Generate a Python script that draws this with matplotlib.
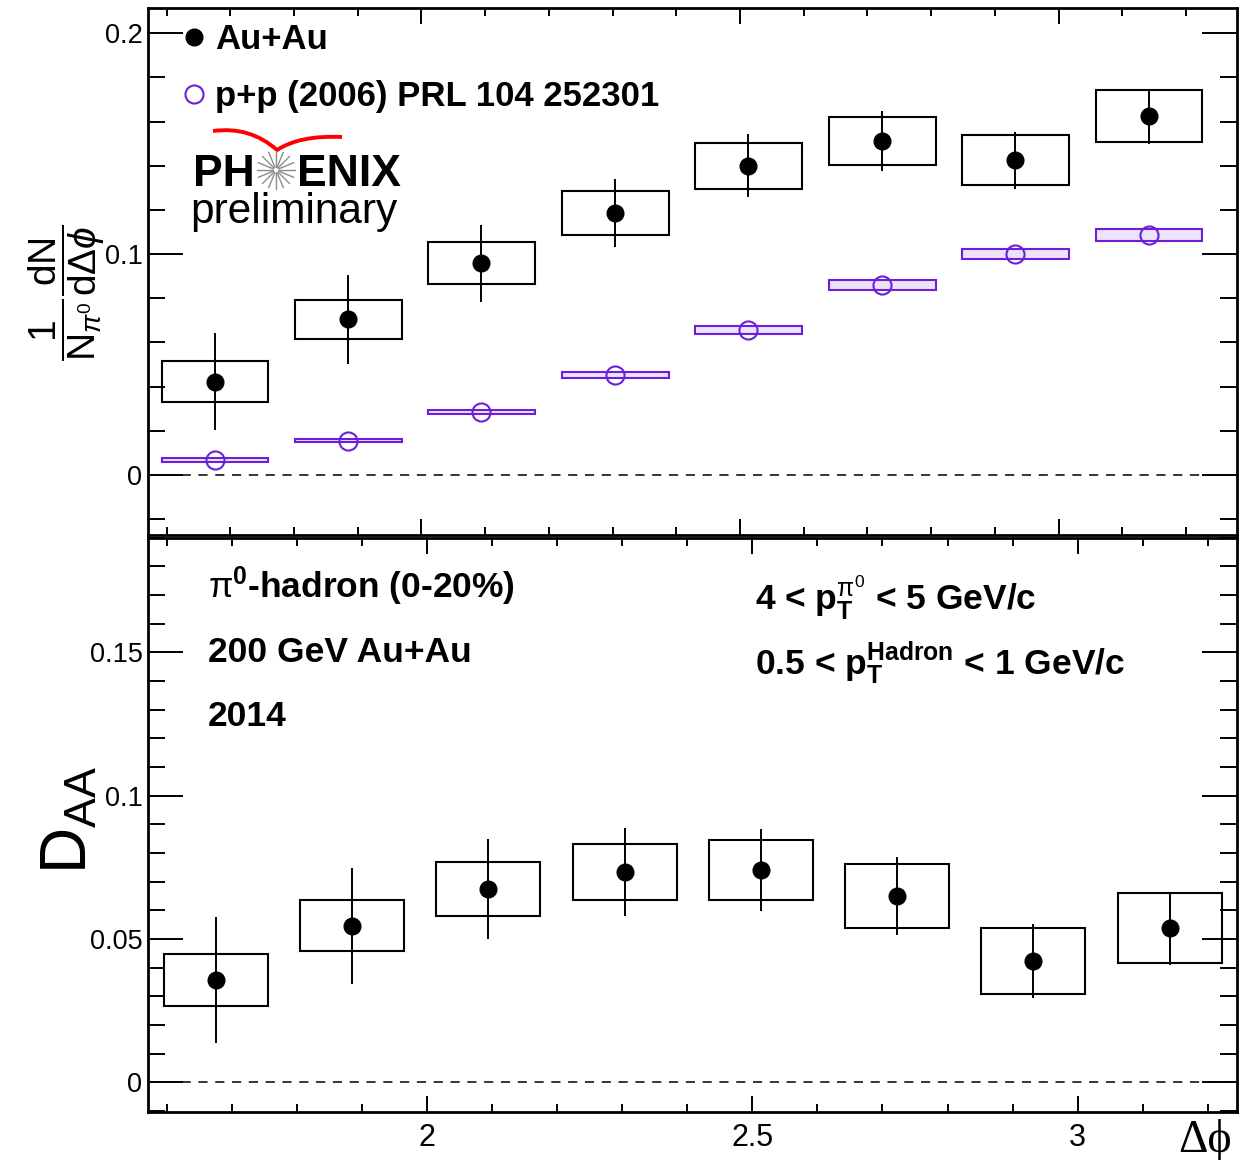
import numpy as np
import matplotlib
matplotlib.use('Agg')
import matplotlib.pyplot as plt
from matplotlib.patches import Rectangle, PathPatch
from matplotlib.path import Path
from matplotlib.lines import Line2D
from matplotlib.ticker import MultipleLocator, FuncFormatter

plt.rcParams['font.family'] = ['Liberation Sans', 'DejaVu Sans']
plt.rcParams['mathtext.fontset'] = 'custom'
plt.rcParams['mathtext.rm'] = 'Liberation Sans'
plt.rcParams['mathtext.it'] = 'Liberation Sans:italic'
plt.rcParams['mathtext.bf'] = 'Liberation Sans:bold'

# bin centres in delta phi (rad)
dphi = [1.676, 1.885, 2.094, 2.304, 2.513, 2.723, 2.932, 3.142]

# top panel: per-trigger yields
auau_y = [0.0422, 0.0704, 0.0958, 0.1187, 0.1400, 0.1513, 0.1425, 0.1625]
auau_stat = [0.0219, 0.0202, 0.0174, 0.0155, 0.0143, 0.0135, 0.0128, 0.0125]
auau_sys = [0.0092, 0.0090, 0.0095, 0.0100, 0.0104, 0.0110, 0.0113, 0.0118]

pp_y = [0.0068, 0.0155, 0.0284, 0.0452, 0.0656, 0.0861, 0.1000, 0.1087]
pp_sys = [0.0008, 0.0008, 0.0009, 0.0014, 0.0018, 0.0023, 0.0024, 0.0027]

# bottom panel: D_AA
daa_y = [0.0357, 0.0547, 0.0675, 0.0734, 0.0742, 0.0649, 0.0424, 0.0538]
daa_stat = [0.0219, 0.0202, 0.0175, 0.0155, 0.0143, 0.0136, 0.0130, 0.0128]
daa_sys = [0.0091, 0.0090, 0.0095, 0.0099, 0.0105, 0.0112, 0.0114, 0.0122]

purple = '#6c1ed8'
W, H = 1248, 1160


def fx(px):
    return px / W


def fy(py):
    return 1 - py / H


def draw_boxes(ax, x, y, s, width, ec, fc='none', lw=1.5):
    for xi, yi, si in zip(x, y, s):
        ax.add_patch(Rectangle((xi - width / 2, yi - si), width, 2 * si,
                               ec=ec, fc=fc, lw=lw, zorder=2))


def style(ax, ymaj, ymin):
    ax.xaxis.set_major_locator(MultipleLocator(0.5))
    ax.xaxis.set_minor_locator(MultipleLocator(0.1))
    ax.yaxis.set_major_locator(MultipleLocator(ymaj))
    ax.yaxis.set_minor_locator(MultipleLocator(ymin))
    ax.tick_params(which='both', direction='in', top=True, right=True, width=1.4)
    ax.tick_params(axis='x', which='major', length=11.5, labelsize=22, pad=8)
    ax.tick_params(axis='x', which='minor', length=5.8)
    ax.tick_params(axis='y', which='major', length=25, labelsize=19.5, pad=4)
    ax.tick_params(axis='y', which='minor', length=12.5)
    fmt = FuncFormatter(lambda v, p: '%g' % round(v, 6))
    ax.xaxis.set_major_formatter(fmt)
    ax.yaxis.set_major_formatter(fmt)
    for sp in ax.spines.values():
        sp.set_linewidth(2)
    ax.axhline(0, ls=(0, (6, 5)), color='k', lw=1.1, zorder=1)


fig = plt.figure(figsize=(12.48, 11.6), dpi=100)
ax1 = fig.add_axes([148 / W, 1 - 534.5 / H, 1089 / W, 527 / H])
ax2 = fig.add_axes([148 / W, 1 - 1112 / H, 1089 / W, 574.3 / H])

# ---- top panel
draw_boxes(ax1, dphi, auau_y, auau_sys, 0.1676, 'k')
draw_boxes(ax1, dphi, pp_y, pp_sys, 0.1676, purple, fc='#ece3fb')
ax1.errorbar(dphi, auau_y, yerr=auau_stat, fmt='o', color='k', ms=12,
             elinewidth=1.4, capsize=0, zorder=4)
ax1.plot(dphi, pp_y, 'o', mfc='none', mec=purple, ms=13, mew=1.5, zorder=4)
ax1.set_xlim(1.5708, 3.28)
ax1.set_ylim(-0.027, 0.2117)
style(ax1, 0.1, 0.02)
ax1.tick_params(axis='x', labelbottom=False)

handles = [Line2D([], [], marker='o', ls='none', color='k', ms=12),
           Line2D([], [], marker='o', ls='none', mfc='none', mec=purple, ms=13, mew=1.5)]
ax1.legend(handles, ['Au+Au', 'p+p (2006) PRL 104 252301'], loc='upper left',
           bbox_to_anchor=(0.0266, 0.970), frameon=False, borderpad=0,
           borderaxespad=0, handlelength=1.0, handletextpad=0.1,
           labelspacing=0.68, prop={'weight': 'bold', 'size': 25})

# ---- bottom panel
draw_boxes(ax2, dphi, daa_y, daa_sys, 0.16, 'k')
ax2.errorbar(dphi, daa_y, yerr=daa_stat, fmt='o', color='k', ms=12,
             elinewidth=1.4, capsize=0, zorder=4)
ax2.set_xlim(1.5708, 3.245)
ax2.set_ylim(-0.0103, 0.19)
style(ax2, 0.05, 0.01)

tk = dict(transform=ax2.transAxes, fontsize=25.5, fontweight='bold', va='baseline')
ax2.text(0.0551, 0.895, r'$\mathrm{\pi}^{\mathbf{0}}$-hadron (0-20%)', **tk)
ax2.text(0.0551, 0.783, '200 GeV Au+Au', **tk)
ax2.text(0.0551, 0.672, '2014', **tk)
ax2.text(0.5574, 0.874, r'4 < $\mathbf{p}_{\mathbf{T}}^{\mathrm{\pi}^{0}}$ < 5 GeV/c', **tk)
ax2.text(0.5574, 0.761, r'0.5 < $\mathbf{p}_{\mathbf{T}}^{\mathbf{Hadron}}$ < 1 GeV/c', **tk)

# ---- axis titles
fig.text(fx(67), fy(293), r'$\dfrac{1}{\mathrm{N}_{\pi^{0}}}\dfrac{\mathrm{dN}}{\mathrm{d}\Delta\phi}$',
         rotation=90, ha='center', va='center', fontsize=28)
fig.text(fx(70), fy(820), r'$\mathrm{D}_{\mathrm{AA}}$', rotation=90,
         ha='center', va='center', fontsize=46)
fig.text(fx(1205), fy(1140), 'Δϕ', fontsize=33, ha='center', va='center',
         family=['Liberation Serif', 'DejaVu Serif'])

# ---- PHENIX preliminary logo
fig.text(fx(193), fy(186), 'PH', fontsize=32, fontweight='bold', va='baseline')
fig.text(fx(297), fy(186), 'ENIX', fontsize=32, fontweight='bold', va='baseline')
fig.text(fx(190), fy(223), 'preliminary', fontsize=30.5, va='baseline')
cx, cy = 276, 170
for a in np.linspace(0, 2 * np.pi, 16, endpoint=False):
    fig.add_artist(Line2D([fx(cx + 3 * np.cos(a)), fx(cx + 19 * np.cos(a))],
                          [fy(cy + 3 * np.sin(a)), fy(cy + 19 * np.sin(a))],
                          transform=fig.transFigure, color='0.55', lw=1))
swoosh = Path([(fx(213), fy(131)), (fx(250), fy(126)), (fx(277), fy(150)),
               (fx(300), fy(135)), (fx(342), fy(137))],
              [Path.MOVETO, Path.CURVE3, Path.CURVE3, Path.CURVE3, Path.CURVE3])
fig.add_artist(PathPatch(swoosh, fc='none', ec='red', lw=2.8,
                         transform=fig.transFigure))

fig.savefig('out.png', dpi=100)
